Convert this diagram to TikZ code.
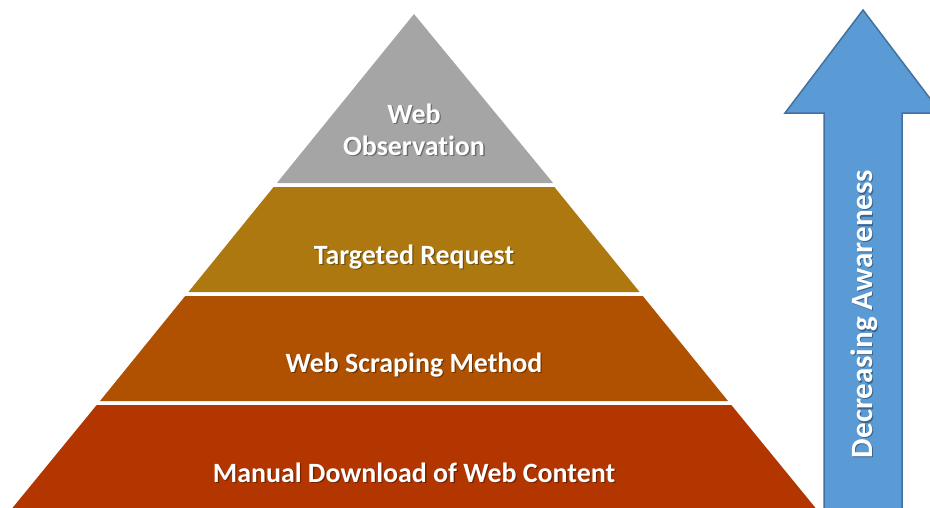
\documentclass[tikz,border=0pt]{standalone}
\usepackage{fontspec}
\setmainfont[Ligatures=NoCommon]{Carlito}
\definecolor{tiergray}{HTML}{A5A5A5}
\definecolor{tiergold}{HTML}{AD780F}
\definecolor{tierorange}{HTML}{AF5100}
\definecolor{tierred}{HTML}{B33500}
\definecolor{arrowfill}{HTML}{5B9BD5}
\definecolor{arrowline}{HTML}{41719C}
\tikzset{
  lbl/.style={text=white, font=\bfseries\fontsize{27.9}{32}\selectfont, align=center, inner sep=0pt},
  lblshadow/.style={text=black, opacity=0.35, font=\bfseries\fontsize{27.9}{32}\selectfont, align=center, inner sep=0pt},
  biglbl/.style={font=\bfseries\fontsize{31}{36}\selectfont},
}
% shadowed white label: #1 extra options, #2 position, #3 name, #4 text
\newcommand{\tierlabel}[4][]{%
  \node[lblshadow,#1] at ($(#2)+(1.3,1.3)$) {#4};
  \node[lbl,#1] (#3) at (#2) {#4};
}
\usetikzlibrary{calc}
\begin{document}
\begin{tikzpicture}[x=1pt,y=-1pt]
\useasboundingbox (0,0) rectangle (930,507);
\clip (0,0) rectangle (930,507);

% pyramid tiers
\fill[tiergray]   (414,14) -- (553.1,183) -- (276.9,183) -- cycle;
\fill[tiergold]   (273.6,187) -- (554.4,187) -- (639.6,292) -- (188.4,292) -- cycle;
\fill[tierorange] (185.2,296) -- (642.8,296) -- (728.0,401) -- (100.0,401) -- cycle;
\fill[tierred]    (96.7,405) -- (731.3,405) -- (816.4,509) -- (11.6,509) -- cycle;

% labels
\coordinate (p1) at (414,130);
\coordinate (p2) at (414,257);
\coordinate (p3) at (414,365);
\coordinate (p4) at (414,473);
\tierlabel{p1}{obs}{Web\\Observation}
\tierlabel{p2}{req}{Targeted Request}
\tierlabel{p3}{scr}{Web Scraping Method}
\tierlabel{p4}{man}{Manual Download of Web Content}

% upward arrow
\draw[fill=arrowfill, draw=arrowline, line width=1.5pt, line join=miter]
  (863,10) -- (941,113) -- (902,113) -- (902,515) -- (824,515) -- (824,113) -- (785,113) -- cycle;
\coordinate (p5) at (864,314);
\tierlabel[rotate=90,biglbl]{p5}{aw}{Decreasing Awareness}
\end{tikzpicture}
\end{document}
